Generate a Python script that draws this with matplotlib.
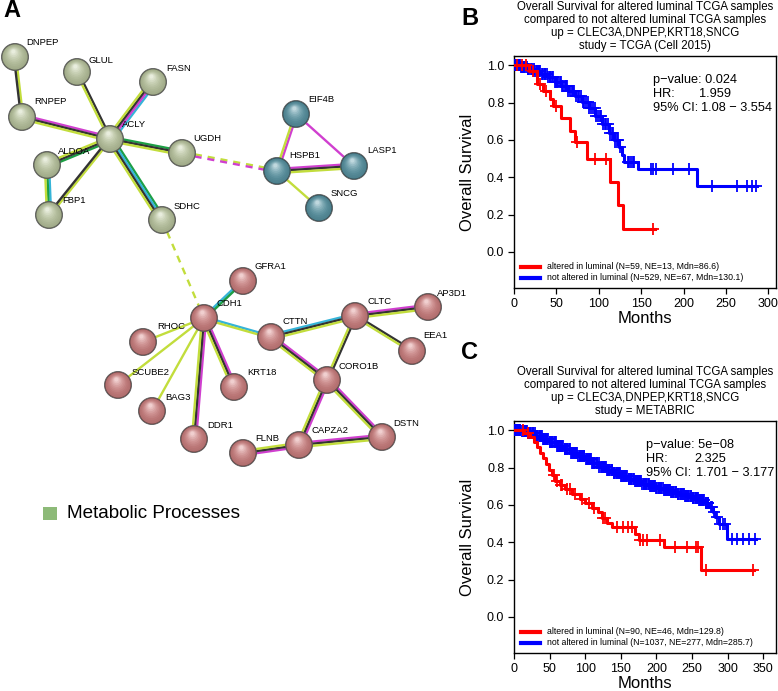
import numpy as np
import matplotlib.pyplot as plt
import matplotlib.colors as mcolors
from matplotlib.patches import Circle, Rectangle

plt.rcParams['font.family'] = ['Liberation Sans', 'DejaVu Sans']

# ---------------- network (panel A), positions in pixels ----------------
node_names = ['DNPEP', 'GLUL', 'FASN', 'RNPEP', 'ACLY', 'UGDH', 'ALDOA', 'FBP1', 'SDHC',
              'EIF4B', 'HSPB1', 'LASP1', 'SNCG',
              'GFRA1', 'CDH1', 'RHOC', 'SCUBE2', 'BAG3', 'KRT18', 'DDR1', 'CTTN', 'CLTC',
              'AP3D1', 'EEA1', 'CORO1B', 'DSTN', 'CAPZA2', 'FLNB']
node_x = [15, 77, 153, 22, 110, 182, 47, 49, 162,
          296, 277, 354, 319,
          243, 204, 143, 118, 152, 234, 194, 271, 355,
          428, 412, 327, 382, 299, 243]
node_y = [57, 72, 82, 117, 139, 153, 165, 215, 220,
          114, 171, 166, 208,
          281, 318, 342, 385, 411, 387, 439, 337, 316,
          307, 351, 380, 437, 445, 453]
node_group = ['g'] * 9 + ['b'] * 4 + ['r'] * 15
label_x = [26, 89, 166, 34, 122, 193, 58, 62, 174,
           308, 289, 367, 331,
           255, 217, 157, 132, 165, 247, 207, 283, 368,
           437, 423, 339, 393, 312, 255]
label_y = [42, 60, 68, 101, 124, 138, 151, 200, 206,
           99, 155, 150, 193,
           266, 303, 326, 372, 397, 372, 425, 321, 301,
           293, 335, 366, 423, 430, 438]

Y, K, M, C, G = '#c2dd3c', '#333333', '#d03fcf', '#35b4d8', '#1d9f45'
edges = [('DNPEP', 'RNPEP', [Y, K]),
         ('GLUL', 'ACLY', [K, Y]),
         ('FASN', 'ACLY', [C, M, K, Y]),
         ('RNPEP', 'ACLY', [M, K, Y]),
         ('ACLY', 'UGDH', [G, K, Y]),
         ('ACLY', 'ALDOA', [G, K, Y]),
         ('ACLY', 'FBP1', [Y, K]),
         ('ACLY', 'SDHC', [G, C, K, Y]),
         ('ALDOA', 'FBP1', [C, G, Y]),
         ('EIF4B', 'HSPB1', [M, Y]),
         ('EIF4B', 'LASP1', [M]),
         ('HSPB1', 'LASP1', [M, K, Y]),
         ('HSPB1', 'SNCG', [Y]),
         ('CDH1', 'GFRA1', [C, G]),
         ('CDH1', 'RHOC', [Y]),
         ('CDH1', 'SCUBE2', [Y]),
         ('CDH1', 'BAG3', [Y]),
         ('CDH1', 'DDR1', [M, K, Y]),
         ('CDH1', 'KRT18', [M, K, Y]),
         ('CDH1', 'CTTN', [C, Y]),
         ('CTTN', 'CLTC', [C, K, Y]),
         ('CTTN', 'CORO1B', [M, K, Y]),
         ('CLTC', 'AP3D1', [M, K, Y]),
         ('CLTC', 'EEA1', [K, Y]),
         ('CLTC', 'CORO1B', [K, Y]),
         ('CORO1B', 'CAPZA2', [M, K, Y]),
         ('CORO1B', 'DSTN', [M, K, Y]),
         ('CAPZA2', 'DSTN', [M, K, Y]),
         ('CAPZA2', 'FLNB', [M, K, Y])]
dashed_edges = [('UGDH', 'HSPB1', [Y, M]),
                ('SDHC', 'CDH1', [Y])]

group_colors = {'g': '#c6d2aa', 'b': '#5f9dad', 'r': '#d98888'}

# ---------------- survival data ----------------
# panel B (TCGA)
red_b_t = [0, 18, 27, 34, 42, 46, 55, 66, 72, 86, 113, 123, 129]
red_b_s = [1.0, 0.97, 0.90, 0.86, 0.82, 0.78, 0.72, 0.65, 0.59, 0.50, 0.375, 0.25, 0.125]
red_b_end = 166
red_b_cens = [4, 9, 14, 22, 31, 38, 50, 74, 95, 109, 164]

blue_b_t = [0, 8, 16, 24, 32, 40, 48, 56, 64, 72, 80, 88, 96, 104, 112, 118, 124, 127,
            130, 146, 216]
blue_b_s = [1.0, 0.992, 0.98, 0.968, 0.952, 0.935, 0.912, 0.89, 0.862, 0.835, 0.805, 0.77,
            0.73, 0.685, 0.64, 0.60, 0.56, 0.52, 0.48, 0.445, 0.355]
blue_b_end = 287
blue_b_cens = [1, 2, 3, 4, 5, 6, 7, 8, 10, 11, 12, 13, 15, 16, 17, 18, 20, 21, 23, 24, 26,
               27, 28, 30, 31, 33, 34, 36, 37, 39, 40, 42, 43, 45, 46, 48, 49, 51, 52, 54,
               55, 57, 58, 60, 61, 63, 64, 66, 68, 70, 71, 73, 75, 77, 79, 81, 83, 85, 87,
               89, 91, 93, 95, 97, 99, 101, 103, 105, 107, 109, 111, 113, 115, 117, 119,
               121, 123, 125, 134, 136, 138, 140, 142, 161, 164, 168, 188, 206, 234, 263,
               275, 281, 286]

# panel C (METABRIC)
red_c_t = [0, 14, 22, 28, 33, 37, 41, 45, 49, 53, 58, 64, 72, 82, 92, 100, 110, 118, 124,
           130, 137, 170, 176, 211, 263]
red_c_s = [1.0, 0.985, 0.965, 0.94, 0.91, 0.88, 0.85, 0.82, 0.79, 0.76, 0.73, 0.705, 0.685,
           0.66, 0.63, 0.61, 0.585, 0.56, 0.53, 0.505, 0.48, 0.445, 0.415, 0.375, 0.25]
red_c_end = 337
red_c_cens = [12, 20, 56, 60, 66, 68, 74, 78, 85, 95, 105, 112, 125, 128, 145, 153, 160,
              166, 177, 181, 187, 205, 226, 243, 255, 258, 270, 336]

blue_c_t = [0, 10, 20, 30, 40, 50, 60, 70, 80, 90, 100, 110, 120, 130, 140, 150, 160, 170,
            180, 190, 200, 210, 220, 230, 240, 250, 260, 268, 274, 279, 283, 288, 299]
blue_c_s = [1.0, 0.995, 0.985, 0.97, 0.955, 0.935, 0.915, 0.898, 0.88, 0.862, 0.845, 0.825,
            0.805, 0.788, 0.77, 0.755, 0.74, 0.727, 0.715, 0.702, 0.69, 0.68, 0.67, 0.66,
            0.65, 0.638, 0.625, 0.61, 0.59, 0.565, 0.535, 0.50, 0.42]
blue_c_end = 340
blue_c_cens = [1, 2, 3, 4, 5, 7, 8, 9, 11, 12, 14, 15, 17, 18, 20, 21, 23, 24, 26, 27, 29,
               30, 32, 33, 35, 36, 38, 39, 41, 42, 44, 45, 47, 48, 50, 51, 53, 54, 56, 57,
               59, 60, 62, 63, 65, 66, 68, 69, 71, 72, 74, 75, 77, 78, 80, 81, 83, 84, 86,
               87, 89, 90, 92, 93, 95, 96, 98, 99, 101, 102, 104, 105, 107, 108, 110, 111,
               113, 114, 116, 117, 119, 120, 122, 123, 125, 126, 128, 129, 131, 132, 134,
               135, 137, 138, 140, 141, 143, 144, 146, 147, 149, 150, 152, 153, 155, 156,
               158, 159, 161, 162, 164, 165, 167, 168, 170, 171, 173, 174, 176, 177, 179,
               180, 182, 183, 185, 186, 188, 189, 191, 192, 194, 195, 197, 198, 200, 201,
               203, 204, 206, 207, 209, 210, 212, 213, 215, 216, 218, 219, 221, 222, 224,
               225, 227, 228, 230, 231, 233, 234, 236, 237, 239, 240, 242, 243, 245, 246,
               248, 249, 251, 252, 254, 255, 257, 258, 260, 261, 263, 264, 266, 267, 269,
               270, 272, 273, 276, 278, 281, 285, 290, 293, 296, 306, 313, 322, 330, 338]

fig = plt.figure(figsize=(7.78, 6.91), dpi=100)

# ---------------- panel A ----------------
axA = fig.add_axes([0, 0, 1, 1])
axA.set_xlim(0, 778)
axA.set_ylim(691, 0)
axA.axis('off')
pos = {n: (x, y) for n, x, y in zip(node_names, node_x, node_y)}


def draw_edge(a, b, cols, dashed=False):
    (x1, y1), (x2, y2) = pos[a], pos[b]
    d = np.array([x2 - x1, y2 - y1], float)
    nrm = np.array([-d[1], d[0]]) / np.hypot(*d)
    n = len(cols)
    for i, c in enumerate(cols):
        off = (i - (n - 1) / 2) * 2.1
        xs = [x1 + nrm[0] * off, x2 + nrm[0] * off]
        ys = [y1 + nrm[1] * off, y2 + nrm[1] * off]
        axA.plot(xs, ys, color=c, lw=1.7, solid_capstyle='butt', zorder=1,
                 ls=(0, (3, 2.5)) if dashed else '-')


for a, b, cols in edges:
    draw_edge(a, b, cols)
for a, b, cols in dashed_edges:
    draw_edge(a, b, cols, dashed=True)


def sphere(x, y, r, base):
    rgb = np.array(mcolors.to_rgb(base))
    dark = rgb * 0.5
    axA.add_patch(Circle((x, y), r, fc=dark, ec='#5a5a5a', lw=0.6, zorder=3))
    steps = 10
    for i in range(steps):
        f = i / (steps - 1)
        rr = r * (0.93 - 0.78 * f)
        col = rgb * (0.82 + 0.18 * f) + (1 - rgb) * (0.6 * f ** 2)
        col = np.clip(col, 0, 1)
        axA.add_patch(Circle((x - 0.12 * r * f, y - 0.4 * r * f), rr, fc=col, ec='none',
                             zorder=3))


for n, x, y, g in zip(node_names, node_x, node_y, node_group):
    sphere(x, y, 13.5, group_colors[g])
for n, lx, ly in zip(node_names, label_x, label_y):
    axA.text(lx, ly, n, fontsize=6.8, ha='left', va='center', zorder=5)

axA.text(3, 10, 'A', fontsize=17, fontweight='bold', ha='left', va='center')
axA.text(461, 18, 'B', fontsize=17, fontweight='bold', ha='left', va='center')
axA.text(461, 352, 'C', fontsize=17, fontweight='bold', ha='left', va='center')
axA.add_patch(Rectangle((43, 507), 14, 13, fc='#8dba78', ec='none'))
axA.text(67, 513.5, 'Metabolic Processes', fontsize=13.6, ha='left', va='center')


# ---------------- KM panels ----------------
def km(ax, t, s, end, cens, color):
    ax.step(t + [end], s + [s[-1]], where='post', color=color, lw=2.2, zorder=3)
    cs = np.array(s)[np.searchsorted(t, cens, side='right') - 1]
    ax.plot(cens, cs, '+', color=color, ms=8, mew=1.3, zorder=3)


def km_panel(rect, xmax, xticks, title, stats, legend_labels, curves):
    ax = fig.add_axes(rect)
    for t, s, end, cens, col in curves:
        km(ax, t, s, end, cens, col)
    ax.set_xlim(0, xmax)
    ax.set_ylim(-0.193, 1.05)
    ax.set_xticks(xticks)
    ax.set_yticks([0.0, 0.2, 0.4, 0.6, 0.8, 1.0])
    ax.set_yticklabels(['0.0', '0.2', '0.4', '0.6', '0.8', '1.0'])
    ax.tick_params(direction='out', length=4, width=0.9, labelsize=9, pad=3)
    for sp in ax.spines.values():
        sp.set_linewidth(1.0)
    ax.set_title(title, fontsize=8.3, linespacing=1.12, pad=5)
    ax.set_xlabel('Months', fontsize=12, va='top')
    ax.xaxis.set_label_coords(0.5, -0.1)
    ax.set_ylabel('Overall Survival', fontsize=12)
    ax.yaxis.set_label_coords(-0.15, 0.5)
    # statistics block
    (x0, x1, x2), rows = stats
    ys = [0.92, 0.845, 0.77]
    ax.text(x0, ys[0], rows[0], fontsize=9.2, va='center')
    ax.text(x0, ys[1], 'HR:', fontsize=9.2, va='center')
    ax.text(x1, ys[1], rows[1], fontsize=9.2, va='center')
    ax.text(x0, ys[2], '95% CI:', fontsize=9.2, va='center')
    ax.text(x2, ys[2], rows[2], fontsize=9.2, va='center')
    # legend
    for (lab, col), yy in zip(legend_labels, [0.092, 0.045]):
        ax.plot([0.027, 0.1], [yy, yy], color=col, lw=3, transform=ax.transAxes)
        ax.text(0.127, yy, lab, fontsize=6.3, va='center', transform=ax.transAxes)
    return ax


km_panel([514 / 778, (691 - 288) / 691, 262 / 778, 232 / 691], 309,
         [0, 50, 100, 150, 200, 250, 300],
         'Overall Survival for altered luminal TCGA samples\n'
         'compared to not altered luminal TCGA samples\n'
         'up = CLEC3A,DNPEP,KRT18,SNCG\nstudy = TCGA (Cell 2015)',
         ((164, 218.5, 220.5), ['p\u2212value: 0.024', '1.959', '1.08 \u2212 3.554']),
         [('altered in luminal (N=59, NE=13, Mdn=86.6)', 'red'),
          ('not altered in luminal (N=529, NE=67, Mdn=130.1)', 'blue')],
         [(blue_b_t, blue_b_s, blue_b_end, blue_b_cens, 'blue'),
          (red_b_t, red_b_s, red_b_end, red_b_cens, 'red')])

km_panel([514 / 778, (691 - 653) / 691, 262 / 778, 232 / 691], 368,
         [0, 50, 100, 150, 200, 250, 300, 350],
         'Overall Survival for altered luminal TCGA samples\n'
         'compared to not altered luminal TCGA samples\n'
         'up = CLEC3A,DNPEP,KRT18,SNCG\nstudy = METABRIC',
         ((185.5, 253, 256), ['p\u2212value: 5e\u221208', '2.325', '1.701 \u2212 3.177']),
         [('altered in luminal (N=90, NE=46, Mdn=129.8)', 'red'),
          ('not altered in luminal (N=1037, NE=277, Mdn=285.7)', 'blue')],
         [(blue_c_t, blue_c_s, blue_c_end, blue_c_cens, 'blue'),
          (red_c_t, red_c_s, red_c_end, red_c_cens, 'red')])

fig.savefig('out.png', dpi=100)
